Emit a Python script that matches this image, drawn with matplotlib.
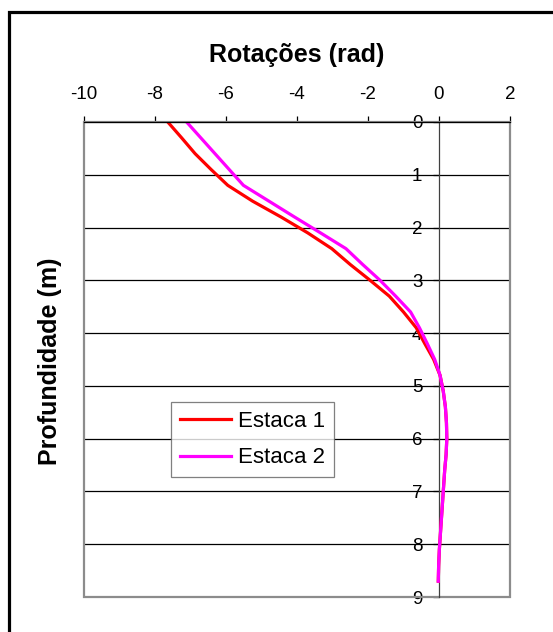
import numpy as np
import matplotlib
matplotlib.use("Agg")
import matplotlib.pyplot as plt
from matplotlib.patches import Rectangle

plt.rcParams['font.family'] = ['Liberation Sans', 'DejaVu Sans']
plt.rcParams['axes.unicode_minus'] = False

depth = [0.0, 0.3, 0.6, 0.9, 1.2, 1.5, 1.8, 2.1, 2.4, 2.7, 3.0, 3.3, 3.6, 3.9, 4.2,
         4.5, 4.8, 5.1, 5.4, 5.7, 6.0, 6.3, 6.6, 6.9, 7.2, 7.5, 7.8, 8.1, 8.4, 8.7]
estaca1 = [-7.64, -7.25, -6.87, -6.42, -5.95, -5.25, -4.45, -3.70, -3.02, -2.50,
           -1.94, -1.40, -1.00, -0.64, -0.40, -0.15, 0.03, 0.12, 0.18, 0.21,
           0.22, 0.20, 0.16, 0.13, 0.10, 0.07, 0.04, 0.01, -0.01, -0.02]
estaca2 = [-7.11, -6.71, -6.31, -5.91, -5.51, -4.79, -4.07, -3.34, -2.62, -2.15,
           -1.66, -1.22, -0.80, -0.55, -0.33, -0.12, 0.03, 0.12, 0.18, 0.21,
           0.22, 0.20, 0.16, 0.13, 0.10, 0.07, 0.04, 0.01, -0.01, -0.02]
labels = ['Estaca 1', 'Estaca 2']
xticks = [-10, -8, -6, -4, -2, 0, 2]
yticks = list(range(10))

fig = plt.figure(figsize=(5.53, 6.32), dpi=100)
ax = fig.add_axes([84/553, 1-597/632, 426/553, 475/632])

# outer chart border (cut at right and bottom)
fig.patches.append(Rectangle((8.5/553, -0.1), 1.2, 1.1-11.5/632, transform=fig.transFigure,
                             fill=False, edgecolor='black', linewidth=2.3))

for yv in yticks[1:-1]:
    ax.axhline(yv, color='black', linewidth=0.9, zorder=1)

ax.plot(estaca1, depth, color='#ff0000', linewidth=2.3, label=labels[0], zorder=3)
ax.plot(estaca2, depth, color='#ff00ff', linewidth=2.3, label=labels[1], zorder=4)

ax.set_xlim(-10, 2)
ax.set_ylim(9, 0)
ax.set_xticks(xticks)
ax.set_yticks(yticks)

# grey plot-area frame
ax.add_patch(Rectangle((0, 0), 1, 1, transform=ax.transAxes, fill=False,
                       edgecolor='#8c8c8c', linewidth=1.6, zorder=2, clip_on=False))

for s in ['right', 'bottom']:
    ax.spines[s].set_visible(False)
ax.spines['top'].set_color('black')
ax.spines['top'].set_linewidth(0.9)
ax.spines['top'].set_zorder(5)
ax.spines['left'].set_position(('data', 0))
ax.spines['left'].set_color('#404040')
ax.spines['left'].set_linewidth(0.9)

ax.xaxis.tick_top()
ax.xaxis.set_label_position('top')
ax.tick_params(axis='x', direction='out', length=4, width=0.9, labelsize=13.5, pad=10)
ax.tick_params(axis='y', direction='out', length=4, width=0.9, labelsize=13.5, pad=8)
for t in ax.get_yticklabels():
    t.set_zorder(6)

ax.set_xlabel('Rotações (rad)', fontsize=18, fontweight='bold', labelpad=17)
fig.text(50/553, 1-361/632, 'Profundidade (m)', rotation=90, fontsize=18,
         fontweight='bold', ha='center', va='center')

leg = ax.legend(loc='upper left', bbox_to_anchor=((171-84)/426, (597-402)/475),
                fontsize=16, frameon=True, fancybox=False, edgecolor='#606060',
                borderpad=0.4, handlelength=2.3, handletextpad=0.3, labelspacing=0.7,
                borderaxespad=0)
leg.get_frame().set_linewidth(0.9)
leg.set_zorder(7)

fig.savefig('out.png', dpi=100)
